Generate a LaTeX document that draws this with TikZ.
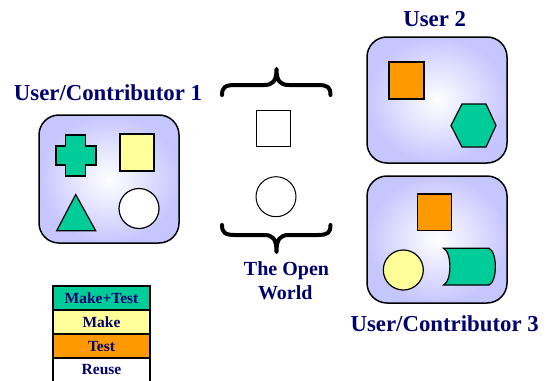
\documentclass[tikz,border=0pt]{standalone}
\usepackage{fontspec}
\setmainfont{Liberation Serif}
\definecolor{navy}{RGB}{0,0,110}
\definecolor{lav}{RGB}{198,198,255}
\definecolor{sgreen}{RGB}{0,204,153}
\definecolor{syellow}{RGB}{255,255,153}
\definecolor{sorange}{RGB}{255,153,0}
\tikzset{
  userbox/.style={draw=black, line width=1.5pt, rounded corners=20pt, inner color=white, outer color=lav},
  shp/.style={draw=black, line width=1.2pt},
  brace/.style={draw=black, line width=4pt, line cap=round, line join=round},
  title/.style={text=navy, font=\fontsize{22.8}{27}\selectfont\bfseries, inner sep=0pt, anchor=base},
  owtext/.style={text=navy, font=\fontsize{20}{24}\selectfont\bfseries, inner sep=0pt, anchor=base},
  legrow/.style={draw=black, line width=1.5pt, minimum width=97pt, minimum height=24pt, inner sep=0pt, text=navy, font=\fontsize{15.5}{18}\selectfont\bfseries},
}
\begin{document}
\begin{tikzpicture}[x=1pt, y=-1pt]
\useasboundingbox (0,0) rectangle (548,380);
\clip (0,0) rectangle (548,380);

% titles
\node[title] (t1) at (108,100) {User/Contributor 1};
\node[title] (t2) at (434.7,26) {User 2};
\node[title] (t3) at (444.7,331) {User/Contributor 3};
\node[owtext] (ow1) at (286.5,275) {The Open};
\node[owtext] (ow2) at (285.3,299) {World};

% box 1
\path[userbox] (39,115) rectangle (179,243);
\path[shp, fill=sgreen] (65.5,135) -- (85.5,135) -- (85.5,146) -- (96,146) -- (96,165) -- (85.5,165) -- (85.5,176) -- (65.5,176) -- (65.5,165) -- (56,165) -- (56,146) -- (65.5,146) -- cycle;
\path[shp, fill=syellow] (120,134) rectangle (154,171);
\path[shp, fill=sgreen] (75.7,194.5) -- (95.7,230.7) -- (56.7,230.7) -- cycle;
\node[shp, fill=white, circle, minimum size=40pt, inner sep=0pt] (c1) at (139,208.5) {};

% box 2
\path[userbox] (367,37) rectangle (507,163);
\path[shp, fill=sorange] (389,62) rectangle (424,99);
\path[shp, fill=sgreen] (451,125.5) -- (462,104) -- (486,104) -- (496,125.5) -- (486,147) -- (462,147) -- cycle;

% box 3
\path[userbox] (367,176) rectangle (507,303);
\path[shp, fill=sorange] (417.3,194) rectangle (451.7,230.7);
\node[shp, fill=syellow, circle, minimum size=40pt, inner sep=0pt] (c3) at (403.3,270) {};
\path[shp, fill=sgreen] (443.5,248.3) -- (489,248.3) .. controls (497.5,252) and (497.5,281.5) .. (489,285) -- (443.5,285) .. controls (452,281.5) and (452,252) .. (443.5,248.3) -- cycle;

% open world
\path[brace] (222,95) .. controls (222,87.5) and (225,85) .. (235,85) -- (264,85) .. controls (273,85) and (276.5,81) .. (276.5,69) .. controls (276.5,81) and (280,85) .. (289,85) -- (318,85) .. controls (328,85) and (330.5,87.5) .. (330.5,95);
\node[shp, draw=black, fill=white, minimum width=34pt, minimum height=36.5pt, inner sep=0pt, line width=1pt] (sq) at (273,128.3) {};
\node[shp, fill=white, circle, minimum size=40pt, inner sep=0pt, line width=1pt] (cw) at (276,196.7) {};
\path[brace] (222,225) .. controls (222,232.5) and (225,235) .. (235,235) -- (264,235) .. controls (273,235) and (276.5,239) .. (276.5,252) .. controls (276.5,239) and (280,235) .. (289,235) -- (318,235) .. controls (328,235) and (330.5,232.5) .. (330.5,225);

% legend
\node[legrow, fill=sgreen] (l1) at (101.5,298) {Make+Test};
\node[legrow, fill=syellow] (l2) at (101.5,322) {Make};
\node[legrow, fill=sorange] (l3) at (101.5,346) {Test};
\node[legrow, fill=white] (l4) at (101.5,370) {Reuse};
\end{tikzpicture}
\end{document}
